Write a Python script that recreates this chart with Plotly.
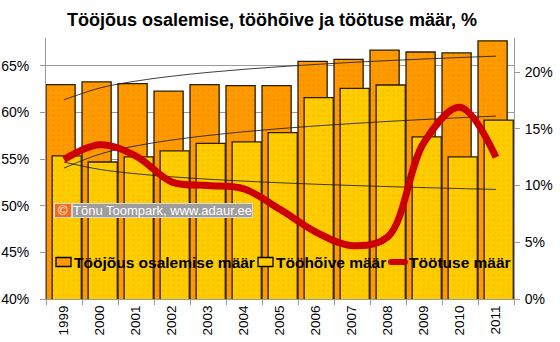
import numpy as np
import plotly.graph_objects as go

# --- data -------------------------------------------------------------
years = [str(y) for y in range(1999, 2012)]
participation = [63.0, 63.3, 63.1, 62.3, 63.0, 62.9, 62.9, 65.5, 65.7, 66.7, 66.5, 66.4, 67.7]
employment = [55.35, 54.7, 55.25, 55.9, 56.7, 56.85, 57.85, 61.6, 62.6, 62.96, 57.4, 55.25, 59.2]
unemployment = [12.3, 13.6, 12.6, 10.3, 10.0, 9.7, 7.9, 5.9, 4.7, 5.5, 13.8, 16.9, 12.5]

left_ticks = [40, 45, 50, 55, 60, 65]
right_ticks = [0, 5, 10, 15, 20]

name_part = "Tööjõus osalemise määr"
name_emp = "Tööhõive määr"
name_unemp = "Töötuse määr"
title_text = "Tööjõus osalemise, tööhõive ja töötuse määr, %"
credit_text = "Tõnu Toompark, www.adaur.ee"

FONT = "Arial, 'Liberation Sans', sans-serif"
ORANGE = "#ff9900"
YELLOW = "#ffcc00"
RED = "#cc0000"
GRID = "#9a9a9a"

# canvas / plot-area geometry in pixels
W, H = 560, 342
L, R, T, B = 46, 46, 38, 43
PW, PH = W - L - R, H - T - B


def px(x):
    return (x - L) / PW


def py(y):
    return (H - B - y) / PH


# logarithmic trend lines (least squares on ln(index))
idx = np.arange(1, len(years) + 1)


def log_trend(values):
    b, a = np.polyfit(np.log(idx), np.asarray(values, float), 1)
    return a + b * np.log(idx)


fig = go.Figure()

fig.add_trace(go.Bar(
    x=years, y=participation, name=name_part, yaxis="y",
    offset=-0.5, width=0.81,
    marker=dict(color=ORANGE, line=dict(color="#2a1e00", width=1.3),
                pattern=dict(shape=".", size=5, solidity=0.12, fgcolor="#e08600")),
    showlegend=False, hoverinfo="skip",
))
fig.add_trace(go.Bar(
    x=years, y=employment, name=name_emp, yaxis="y",
    offset=-0.33, width=0.81,
    marker=dict(color=YELLOW, line=dict(color="#2a1e00", width=1.3),
                pattern=dict(shape=".", size=5, solidity=0.12, fgcolor="#e6b000")),
    showlegend=False, hoverinfo="skip",
))

for vals, ax in [(participation, "y"), (employment, "y"), (unemployment, "y2")]:
    fig.add_trace(go.Scatter(
        x=years, y=log_trend(vals), yaxis=ax, mode="lines",
        line=dict(color="rgba(30,30,30,0.85)", width=1, shape="spline"),
        showlegend=False, hoverinfo="skip",
    ))

fig.add_trace(go.Scatter(
    x=years, y=unemployment, name=name_unemp, yaxis="y2", mode="lines",
    line=dict(color=RED, width=7, shape="spline", smoothing=1.0),
    showlegend=False, hoverinfo="skip",
))

tickfont = dict(family=FONT, size=14, color="#000")

fig.update_layout(
    width=W, height=H,
    margin=dict(l=L, r=R, t=T, b=B, pad=0, autoexpand=False),
    paper_bgcolor="white", plot_bgcolor="white",
    barmode="overlay",
    showlegend=False,
    title=dict(text="<b>%s</b>" % title_text, x=272 / W, y=1 - 20 / H,
               xref="container", yref="container",
               xanchor="center", yanchor="middle",
               font=dict(family=FONT, size=18, color="#000")),
    xaxis=dict(type="category", range=[-0.5, len(years) - 0.5], automargin=False,
               tickson="boundaries", ticks="outside", ticklen=5, tickcolor=GRID,
               showline=True, linecolor=GRID, linewidth=1, showgrid=False,
               tickangle=-90, tickfont=dict(family=FONT, size=13.5, color="#000")),
    yaxis=dict(range=[40, 68], tickmode="array", tickvals=left_ticks,
               ticktext=["%d%%" % v for v in left_ticks], automargin=False,
               showgrid=True, gridcolor=GRID, gridwidth=1, zeroline=False,
               showline=True, linecolor=GRID, linewidth=1, ticklabelstandoff=8,
               ticks="outside", ticklen=5, tickcolor=GRID, tickfont=tickfont),
    yaxis2=dict(range=[0, 23], tickmode="array", tickvals=right_ticks,
                ticktext=["%d%%" % v for v in right_ticks], automargin=False,
                overlaying="y", side="right", showgrid=False, zeroline=False,
                showline=True, linecolor=GRID, linewidth=1, ticklabelstandoff=2,
                ticks="outside", ticklen=5, tickcolor=GRID, tickfont=tickfont),
)

# --- legend drawn inside the plot area ---------------------------------
ly = 262
shapes = [
    dict(type="rect", xref="paper", yref="paper", x0=px(56), x1=px(71),
         y0=py(266.5), y1=py(257.5), fillcolor=ORANGE, line=dict(color="#000", width=1.3)),
    dict(type="rect", xref="paper", yref="paper", x0=px(258), x1=px(273),
         y0=py(266.5), y1=py(257.5), fillcolor=YELLOW, line=dict(color="#000", width=1.3)),
    dict(type="line", xref="paper", yref="paper", x0=px(391), x1=px(405),
         y0=py(ly), y1=py(ly), line=dict(color=RED, width=6)),
    dict(type="circle", xref="paper", yref="paper", x0=px(388), x1=px(394),
         y0=py(ly + 3), y1=py(ly - 3), fillcolor=RED, line=dict(width=0)),
    dict(type="circle", xref="paper", yref="paper", x0=px(402), x1=px(408),
         y0=py(ly + 3), y1=py(ly - 3), fillcolor=RED, line=dict(width=0)),
]
legend_font = dict(family=FONT, size=15.5, color="#000")
annotations = [
    dict(text="<b>%s</b>" % name_part, x=px(72), y=py(ly), xref="paper", yref="paper",
         xanchor="left", yanchor="middle", showarrow=False, font=legend_font),
    dict(text="<b>%s</b>" % name_emp, x=px(274), y=py(ly), xref="paper", yref="paper",
         xanchor="left", yanchor="middle", showarrow=False, font=legend_font),
    dict(text="<b>%s</b>" % name_unemp, x=px(407), y=py(ly), xref="paper", yref="paper",
         xanchor="left", yanchor="middle", showarrow=False, font=legend_font),
    # credit badge
    dict(text="©", x=px(54), y=py(210), xref="paper", yref="paper",
         xanchor="left", yanchor="middle", showarrow=False, width=16, height=13,
         bgcolor="#f26b1d", bordercolor="#d8d8d8", borderwidth=1, borderpad=0,
         font=dict(family=FONT, size=13, color="white")),
    dict(text=credit_text, x=px(72), y=py(210), xref="paper", yref="paper",
         xanchor="left", yanchor="middle", showarrow=False, height=13,
         bgcolor="#9e9e9e", bordercolor="#d8d8d8", borderwidth=1, borderpad=0,
         font=dict(family=FONT, size=13, color="white")),
]
fig.update_layout(shapes=shapes, annotations=annotations)

fig.write_html("out.html")
